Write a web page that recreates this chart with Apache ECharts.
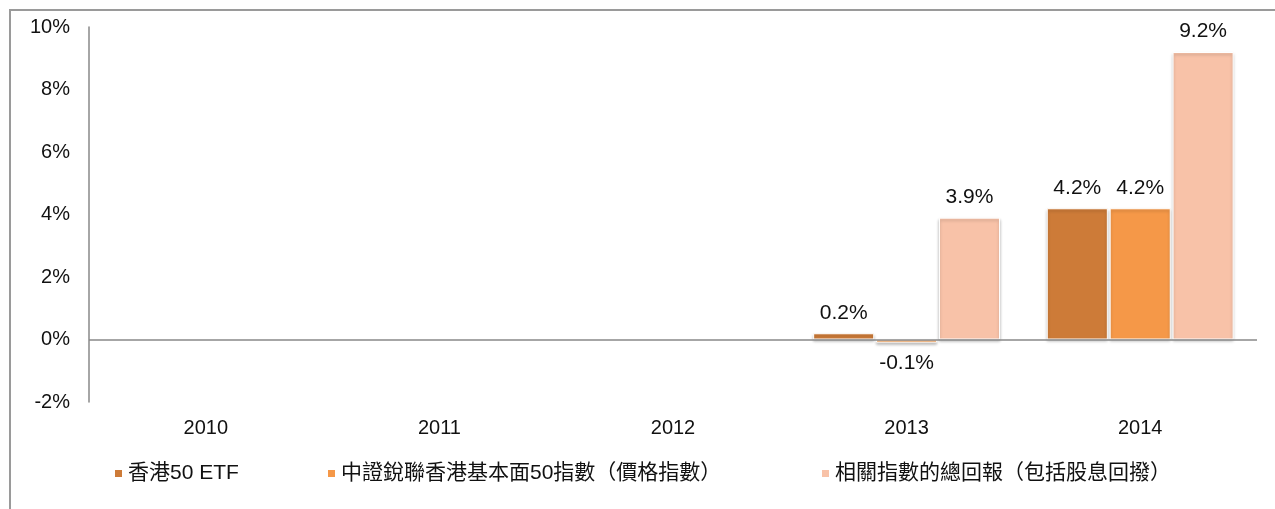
<!DOCTYPE html>
<html>
<head>
	<meta charset="utf-8">
	<title>香港50 ETF</title>
	<style>
		html, body { margin: 0; padding: 0; background: #fff; }
		#container { width: 1275px; height: 509px; }
	</style>
</head>
<body>
<script type="text/javascript" src="https://cdn.jsdelivr.net/npm/echarts@6/dist/echarts.min.js"></script>
<div id="container"></div>
<script type="text/javascript">
    var years = ['2010', '2011', '2012', '2013', '2014'];
    var seriesNames = ['香港50 ETF', '中證銳聯香港基本面50指數（價格指數）', '相關指數的總回報（包括股息回撥）'];
    var etfValues = [null, null, null, 0.2, 4.2];
    var priceIndexValues = [null, null, null, -0.1, 4.2];
    var totalReturnValues = [null, null, null, 3.9, 9.2];
    var colors = ['#CD7B38', '#F59848', '#F8C2A8'];
    var legendLeft = [108, 321, 815];

    var font = '"Liberation Sans", Arial, "Noto Sans CJK TC", sans-serif';

    function toData(values) {
        return values.map(function (v) {
            if (v === null) return '-';
            return { value: v, label: { position: v < 0 ? 'bottom' : 'top' } };
        });
    }

    var allValues = [etfValues, priceIndexValues, totalReturnValues];
    var series = allValues.map(function (vals, i) {
        var s = {
            name: seriesNames[i],
            type: 'bar',
            data: toData(vals),
            barGap: '3%',
            barCategoryGap: '20%',
            itemStyle: {
                color: colors[i],
                borderColor: '#fff',
                borderWidth: 1,
                shadowColor: 'rgba(0,0,0,0.25)',
                shadowBlur: 3,
                shadowOffsetY: 2
            },
            label: {
                show: true,
                color: '#111',
                fontSize: 21,
                fontFamily: font,
                distance: 10,
                formatter: function (p) { return p.value.toFixed(1) + '%'; }
            }
        };
        if (i === 0) {
            // 0% 基準線
            s.markLine = {
                silent: true,
                symbol: 'none',
                label: { show: false },
                lineStyle: { color: '#888', width: 1.5, type: 'solid' },
                data: [{ yAxis: 0 }]
            };
        }
        return s;
    });

    var myChart = echarts.init(document.getElementById('container'));
    var option = {
        animation: false,
        textStyle: { fontFamily: font },
        graphic: [{
            type: 'rect',
            shape: { x: 10, y: 10, width: 1300, height: 600 },
            style: { fill: 'none', stroke: '#9a9a9a', lineWidth: 2 },
            silent: true
        }],
        legend: seriesNames.map(function (name, i) {
            return {
                data: [name],
                left: legendLeft[i],
                top: 458,
                icon: 'rect',
                itemWidth: 9,
                itemHeight: 9,
                itemGap: 4,
                textStyle: { fontSize: 21, color: '#111', fontFamily: font }
            };
        }),
        grid: { left: 89, right: 18, top: 27, bottom: 107, containLabel: false },
        xAxis: {
            type: 'category',
            data: years,
            axisLine: { show: false, onZero: false },
            axisTick: { show: false },
            axisLabel: {
                color: '#111',
                fontSize: 20,
                fontFamily: font,
                interval: 0,
                margin: 16
            }
        },
        yAxis: {
            type: 'value',
            min: -2,
            max: 10,
            interval: 2,
            axisLine: { show: true, lineStyle: { color: '#888', width: 1.5 } },
            axisTick: { show: false },
            splitLine: { show: false },
            axisLabel: {
                color: '#111',
                fontSize: 20,
                fontFamily: font,
                margin: 19,
                formatter: function (v) { return v + '%'; }
            }
        },
        series: series
    };
    myChart.setOption(option);
</script>
</body>
</html>
